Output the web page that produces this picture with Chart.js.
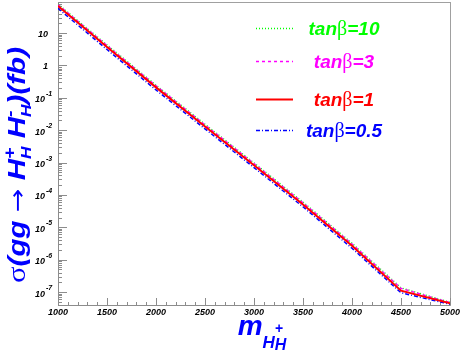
<!DOCTYPE html>
<html>
<head>
<meta charset="utf-8">
<script src="https://cdn.jsdelivr.net/npm/chart.js@4.4.1/dist/chart.umd.min.js"></script>
<style>
  html, body { margin:0; padding:0; background:#fff; }
  canvas { display:block; }
</style>
</head>
<body>
<canvas id="chartXsec" width="463" height="353"></canvas>
<script>
// ============================================
// DATA
// ============================================
const masses = [1000, 1500, 2000, 2500, 3000, 3500, 4000, 4500, 5000];
const sigmaTb10 = [78, 4.3, 0.245, 0.0152, 9.7e-4, 6.0e-5, 3.2e-6, 1.35e-7, 4.8e-8];
const sigmaTb3  = [75, 4.1, 0.235, 0.0145, 9.3e-4, 5.7e-5, 3.05e-6, 1.3e-7, 4.7e-8];
const sigmaTb1  = [69, 3.7, 0.21, 0.013, 8.3e-4, 5.1e-5, 2.7e-6, 1.1e-7, 4.5e-8];
const sigmaTb05 = [58, 3.1, 0.175, 0.011, 7.0e-4, 4.3e-5, 2.25e-6, 9.5e-8, 4.2e-8];
const seriesNames = ['=10', '=3', '=1', '=0.5'];
const xTickLabels = [1000, 1500, 2000, 2500, 3000, 3500, 4000, 4500, 5000];
const yDecades = [-7, -6, -5, -4, -3, -2, -1, 0, 1];

const BOLD_IT = "italic bold %spx 'Liberation Sans', Arial, sans-serif";
const f = (px) => BOLD_IT.replace('%s', px);
const GREEK = (px) => px + "px 'Liberation Serif', 'DejaVu Serif', serif";
const AXIS_GRAY = '#8c8c8c';

// lay out a list of text pieces; {stack:true} pieces share x with the next one
function layoutParts(ctx, parts) {
  let x = 0; const out = [];
  for (let i = 0; i < parts.length; i++) {
    const p = parts[i];
    ctx.font = p.font;
    const w = ctx.measureText(p.t).width;
    if (p.stack) {
      const q = parts[i + 1];
      ctx.font = q.font;
      const w2 = ctx.measureText(q.t).width;
      out.push(Object.assign({}, p, { x: x }), Object.assign({}, q, { x: x }));
      x += Math.max(w, w2); i++;
    } else {
      out.push(Object.assign({}, p, { x: x }));
      x += w;
    }
  }
  return { out: out, width: x };
}

function drawParts(ctx, parts, cx, y, color, span) {
  const L = layoutParts(ctx, parts);
  ctx.save();
  ctx.translate(cx, y);
  if (span) ctx.scale(span / L.width, 1);   // stretch along the text direction
  const x0 = -L.width / 2;
  ctx.fillStyle = color;
  ctx.textAlign = 'left';
  ctx.textBaseline = 'alphabetic';
  L.out.forEach(function(p) {
    ctx.font = p.font;
    ctx.fillText(p.t, x0 + p.x, p.dy || 0);
  });
  ctx.restore();
}

const decorPlugin = {
  id: 'decor',
  beforeDatasetsDraw(chart) {
    const ctx = chart.ctx, a = chart.chartArea;
    const xs = chart.scales.x, ys = chart.scales.y;
    ctx.save();
    // frame
    ctx.strokeStyle = '#a0a0a0';
    ctx.lineWidth = 1;
    ctx.strokeRect(a.left + 0.5, a.top + 0.5, a.right - a.left, a.bottom - a.top);
    ctx.strokeStyle = AXIS_GRAY;
    ctx.beginPath();
    ctx.moveTo(a.left + 0.5, a.top); ctx.lineTo(a.left + 0.5, a.bottom + 0.5);
    ctx.lineTo(a.right, a.bottom + 0.5);
    ctx.stroke();

    // y ticks (log, inward)
    ctx.beginPath();
    for (let k = -8; k <= 2; k++) {
      for (let m = 1; m <= 9; m++) {
        const v = m * Math.pow(10, k);
        if (v < ys.min || v > ys.max) continue;
        const py = Math.round(ys.getPixelForValue(v)) + 0.5;
        const len = m === 1 ? 9 : 4;
        ctx.moveTo(a.left, py); ctx.lineTo(a.left + len, py);
      }
    }
    // x ticks (inward)
    for (let xv = 1000; xv <= 5000; xv += 100) {
      const px = Math.round(xs.getPixelForValue(xv)) + 0.5;
      const len = xv % 500 === 0 ? 7 : 3;
      ctx.moveTo(px, a.bottom); ctx.lineTo(px, a.bottom - len);
    }
    ctx.stroke();

    // y tick labels
    ctx.fillStyle = '#000';
    ctx.textBaseline = 'middle';
    yDecades.forEach(function(k) {
      const py = ys.getPixelForValue(Math.pow(10, k));
      if (k === 0 || k === 1) {
        ctx.font = f(9); ctx.textAlign = 'right';
        ctx.fillText(k === 0 ? '1' : '10', 48, py + 1);
      } else {
        ctx.font = f(9); ctx.textAlign = 'right';
        ctx.fillText('10', 45, py + 2);
        ctx.font = f(7); ctx.textAlign = 'left';
        ctx.fillText(String(k), 46, py - 4);
      }
    });

    // x tick labels
    ctx.font = f(9); ctx.textAlign = 'center'; ctx.textBaseline = 'middle';
    xTickLabels.forEach(function(v) {
      ctx.fillText(String(v), xs.getPixelForValue(v), 313);
    });
    ctx.restore();
  },
  afterDraw(chart) {
    const ctx = chart.ctx;
    ctx.save();
    const blue = '#0000ff';

    // x title
    drawParts(ctx, [
      { t: 'm', font: f(28) },
      { t: 'H', font: f(17), dy: 13 },
      { t: '+', font: f(14), dy: -2, stack: true },
      { t: 'H', font: f(16), dy: 15 }
    ], 262, 335, blue);

    // y title (rotated)
    ctx.save();
    ctx.translate(25, 165);
    ctx.rotate(-Math.PI / 2);
    drawParts(ctx, [
      { t: 'σ', font: GREEK(25) },
      { t: '(gg ', font: f(24) },
      { t: '→', font: "23px 'DejaVu Sans', sans-serif" },
      { t: ' H', font: f(24) },
      { t: '+', font: f(16), dy: -10, stack: true },
      { t: 'H', font: f(14), dy: 6 },
      { t: ' H', font: f(24) },
      { t: '-', font: f(16), dy: -10, stack: true },
      { t: 'H', font: f(14), dy: 6 },
      { t: ')(fb)', font: f(24) }
    ], 0, 0, blue, 236);
    ctx.restore();

    // legend
    const legendY = [28, 61, 99, 130];
    chart.data.datasets.forEach(function(ds, i) {
      const y = legendY[i];
      ctx.strokeStyle = ds.borderColor;
      ctx.lineWidth = ds.borderWidth;
      ctx.setLineDash(ds.borderDash || []);
      ctx.beginPath();
      ctx.moveTo(256, y + 0.5); ctx.lineTo(293, y + 0.5);
      ctx.stroke();
      ctx.setLineDash([]);
      drawParts(ctx, [
        { t: 'tan', font: f(19) },
        { t: 'β', font: GREEK(20) },
        { t: seriesNames[i], font: f(19) }
      ], 344, y + 7, ds.borderColor);
    });
    ctx.restore();
  }
};

function mkSet(label, data, color, width, dash, order) {
  return {
    label: label,
    data: masses.map(function(m, i) { return { x: m, y: data[i] }; }),
    borderColor: color, backgroundColor: color,
    borderWidth: width, borderDash: dash,
    pointRadius: 0, tension: 0, fill: false, order: order
  };
}

const ctx = document.getElementById('chartXsec').getContext('2d');
window.__chart = new Chart(ctx, {
  type: 'line',
  data: {
    datasets: [
      mkSet('tanβ=10', sigmaTb10, '#00ff00', 1.5, [1, 2], 3),
      mkSet('tanβ=3', sigmaTb3, '#ff00ff', 1.5, [3, 3], 2),
      mkSet('tanβ=1', sigmaTb1, '#ff0000', 2, [], 1),
      mkSet('tanβ=0.5', sigmaTb05, '#0000ff', 1.5, [4, 2, 1, 2], 4)
    ]
  },
  options: {
    responsive: false, animation: false, devicePixelRatio: 1,
    layout: { padding: { left: 58, top: 2, right: 13, bottom: 48 } },
    plugins: { legend: { display: false }, tooltip: { enabled: false } },
    scales: {
      x: { type: 'linear', min: 1000, max: 5000, display: false },
      y: { type: 'logarithmic', min: Math.pow(10, -7.4), max: Math.pow(10, 1.96), display: false }
    }
  },
  plugins: [decorPlugin]
});
</script>
</body>
</html>
